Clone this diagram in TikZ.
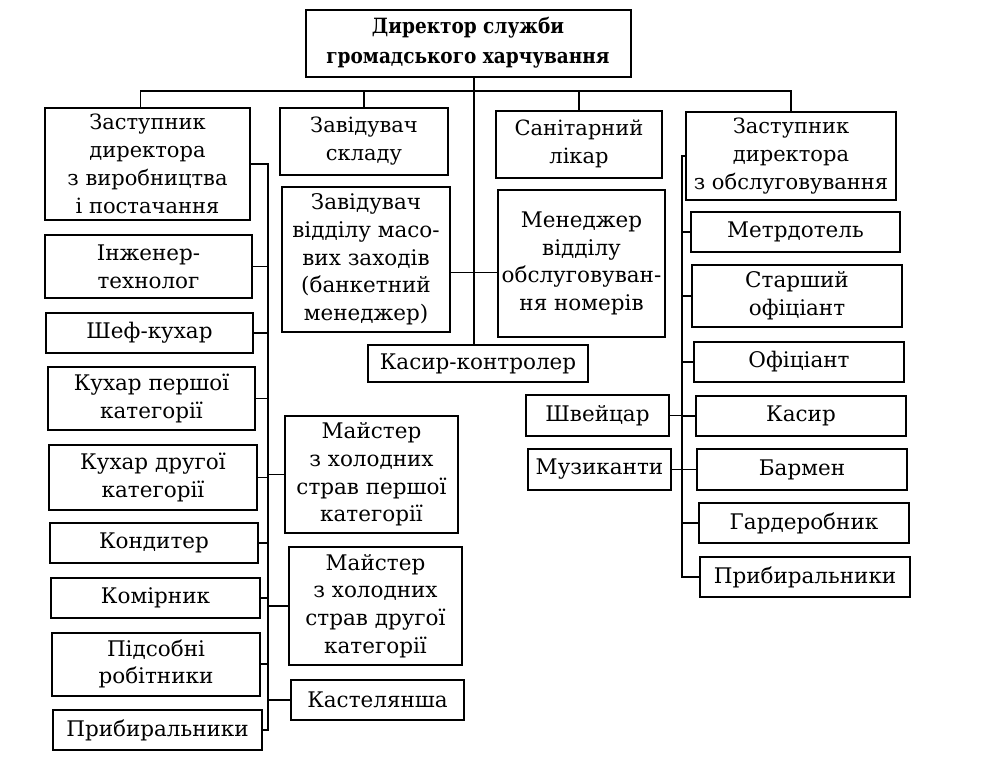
\documentclass[tikz,border=0pt]{standalone}
\usepackage{fontspec}
\setmainfont{DejaVu Serif}
\newfontfamily\condfont[FakeStretch=0.88]{DejaVu Serif}
\begin{document}
\begin{tikzpicture}[x=1pt,y=-1pt,
  box/.style={draw,line width=2pt,inner sep=0pt,align=center,
    font=\fontsize{21.5}{27.7}\selectfont},
  cbox/.style={box,font=\fontsize{21}{28}\selectfont},
  link/.style={line width=1.8pt}]
\useasboundingbox[fill=white] (0,0) rectangle (988,764);
% top
\node[box,font=\condfont\bfseries\fontsize{21}{30}\selectfont,minimum width=325pt,minimum height=67pt] (top) at (468,43) {Директор служби\\громадського харчування};
% first row
\node[cbox,minimum width=205pt,minimum height=112pt] (ld) at (147.5,164) {Заступник\\директора\\з виробництва\\і постачання};
\node[cbox,minimum width=168pt,minimum height=67pt] (sk) at (364,141) {Завідувач\\складу};
\node[box,minimum width=168pt,minimum height=145pt] (mz) at (366,259.5) {Завідувач\\відділу масо-\\вих заходів\\(банкетний\\менеджер)};
\node[cbox,minimum width=166pt,minimum height=67pt] (san) at (579,144) {Санітарний\\лікар};
\node[box,minimum width=167pt,minimum height=147pt] (men) at (581.5,263.5) {Менеджер\\відділу\\обслуговуван-\\ня номерів};
\node[box,minimum width=220pt,minimum height=37pt] (kk) at (478,363.5) {Касир-контролер};
\node[cbox,minimum width=210pt,minimum height=88pt] (rd) at (791,156) {Заступник\\директора\\з обслуговування};
% right column
\node[box,minimum width=209pt,minimum height=40pt] (r1) at (795.5,232) {Метрдотель};
\node[box,minimum width=210pt,minimum height=62pt] (r2) at (797,296) {Старший\\офіціант};
\node[box,minimum width=210pt,minimum height=40pt] (r3) at (799,362) {Офіціант};
\node[box,minimum width=210pt,minimum height=40pt] (r4) at (801,416) {Касир};
\node[box,minimum width=210pt,minimum height=41pt] (r5) at (802,469.5) {Бармен};
\node[box,minimum width=210pt,minimum height=40pt] (r6) at (804,523) {Гардеробник};
\node[box,minimum width=210pt,minimum height=40pt] (r7) at (805,577) {Прибиральники};
\node[box,minimum width=143pt,minimum height=41pt] (shv) at (597.5,415.5) {Швейцар};
\node[box,minimum width=143pt,minimum height=41pt] (muz) at (599.5,469.5) {Музиканти};
% left column
\node[box,minimum width=207pt,minimum height=63pt] (l1) at (148.5,266.5) {Інженер-\\технолог};
\node[box,minimum width=207pt,minimum height=40pt] (l2) at (149.5,333) {Шеф-кухар};
\node[box,minimum width=207pt,minimum height=63pt] (l3) at (151.5,398.5) {Кухар першої\\категорії};
\node[box,minimum width=208pt,minimum height=65pt] (l4) at (153,477.5) {Кухар другої\\категорії};
\node[box,minimum width=208pt,minimum height=40pt] (l5) at (154,543) {Кондитер};
\node[box,minimum width=209pt,minimum height=40pt] (l6) at (155.5,598) {Комірник};
\node[box,minimum width=208pt,minimum height=63pt] (l7) at (156,664) {Підсобні\\робітники};
\node[box,minimum width=209pt,minimum height=40pt] (l8) at (157.5,730) {Прибиральники};
% masters
\node[box,minimum width=173pt,minimum height=117pt] (m1) at (371.5,474.5) {Майстер\\з холодних\\страв першої\\категорії};
\node[box,minimum width=173pt,minimum height=118pt] (m2) at (375.5,606) {Майстер\\з холодних\\страв другої\\категорії};
\node[box,minimum width=173pt,minimum height=40pt] (kas) at (377.5,700) {Кастелянша};
% connectors
\coordinate (bus) at (0,91);
\coordinate (cx) at (474,0);
\coordinate (lx) at (268,0);
\coordinate (rx) at (682,0);
\draw[link] ([xshift=-7pt]ld.north) |- (bus -| rd.north) -- (rd.north);
\draw[link] (sk.north) -- (sk.north |- bus);
\draw[link] (san.north) -- (san.north |- bus);
\draw[link] (top.south -| cx) -- (kk.north -| cx);
\draw[link] ([yshift=-13pt]mz.east) -- ([yshift=-13pt]mz.east -| men.west);
% left tree
\draw[link] (ld.east) -- (ld.east -| lx) -- (l8.east -| lx) -- (l8.east);
\foreach \n in {l1,l2,l3,l4,l5,l6,l7} \draw[link] (\n.east) -- (\n.east -| lx);
\foreach \n in {m1,m2,kas} \draw[link] (\n.west) -- (\n.west -| lx);
% right tree
\draw[link] (rd.west) -- (rd.west -| rx) -- (r7.west -| rx) -- (r7.west);
\foreach \n in {r1,r2,r3,r4,r5,r6} \draw[link] (\n.west) -- (\n.west -| rx);
\foreach \n in {shv,muz} \draw[link] (\n.east) -- (\n.east -| rx);
\end{tikzpicture}
\end{document}
